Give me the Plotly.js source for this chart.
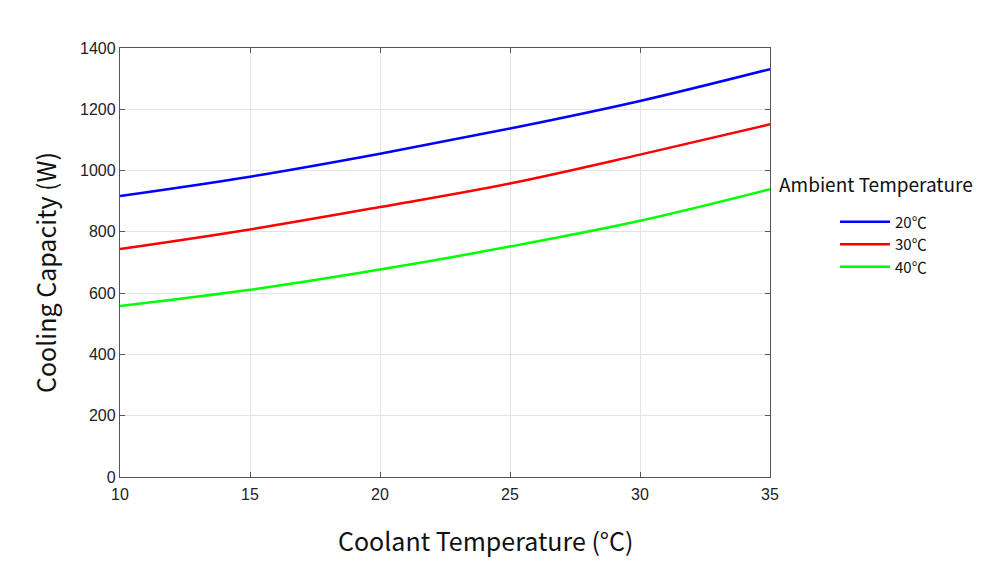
<!DOCTYPE html>
<html>
<head>
<meta charset="utf-8">
<script src="https://cdn.plot.ly/plotly-3.0.1.min.js"></script>
<style>html,body{margin:0;padding:0;background:#fff;}#chart{width:1000px;height:577px;}</style>
</head>
<body>
<div id="chart"></div>
<script>
const coolantTemp = [10, 15, 20, 25, 30, 35];
const cap20 = [917, 980, 1055, 1137, 1227, 1331];
const cap30 = [744, 808, 881, 958, 1052, 1151];
const cap40 = [558, 611, 677, 752, 836, 939];
const seriesNames = ['20℃', '30℃', '40℃'];
const seriesColors = ['#0000ff', '#ff0000', '#00ff00'];
const xTicks = [10, 15, 20, 25, 30, 35];
const yTicks = [0, 200, 400, 600, 800, 1000, 1200, 1400];

const series = [cap20, cap30, cap40];
const traces = series.map((ys, i) => ({
  x: coolantTemp, y: ys, type: 'scatter', mode: 'lines',
  name: seriesNames[i],
  line: {color: seriesColors[i], width: 2.5, shape: 'spline', smoothing: 1}
}));

const titleFont = {family: 'Noto Sans CJK SC, Noto Sans, sans-serif', size: 25, color: '#111'};
const axisCommon = {
  showline: true, linecolor: '#555555', linewidth: 1.2, mirror: 'ticks',
  ticks: 'inside', ticklen: 5, tickcolor: '#555555', tickwidth: 1,
  showgrid: true, gridcolor: '#e3e3e3', gridwidth: 1, zeroline: false,
  tickfont: {family: 'Liberation Sans, Arial, sans-serif', size: 16, color: '#222'}
};

const layout = {
  width: 1000, height: 577,
  margin: {l: 120, r: 230, t: 48, b: 100},
  paper_bgcolor: '#ffffff', plot_bgcolor: '#ffffff',
  xaxis: Object.assign({}, axisCommon, {
    range: [10, 35], tickvals: xTicks, ticktext: xTicks.map(String), ticklabelstandoff: 3
  }),
  yaxis: Object.assign({}, axisCommon, {
    range: [0, 1400], tickvals: yTicks, ticktext: yTicks.map(String)
  }),
  showlegend: true,
  legend: {
    x: 1.1, xanchor: 'left', y: 0.633, yanchor: 'top',
    bgcolor: 'rgba(0,0,0,0)', borderwidth: 0,
    font: {family: 'Noto Sans CJK SC, Noto Sans, sans-serif', size: 15, color: '#111'},
    itemwidth: 50, tracegroupgap: 0
  },
  annotations: [{
    text: 'Ambient Temperature', xref: 'paper', yref: 'paper',
    x: 1.01, xanchor: 'left', y: (477 - 183) / 429, yanchor: 'middle',
    showarrow: false,
    font: {family: 'Noto Sans CJK SC, Noto Sans, sans-serif', size: 19, color: '#111'}
  }, {
    text: 'Coolant Temperature (°C)', xref: 'paper', yref: 'paper',
    x: (486 - 120) / 650, xanchor: 'center', y: (477 - 540) / 429, yanchor: 'middle',
    showarrow: false, font: titleFont
  }, {
    text: 'Cooling Capacity (W)', xref: 'paper', yref: 'paper', textangle: -90,
    x: (45 - 120) / 650, xanchor: 'center', y: (477 - 273) / 429, yanchor: 'middle',
    showarrow: false, font: titleFont
  }]
};

Plotly.newPlot('chart', traces, layout, {displayModeBar: false, staticPlot: true});
</script>
</body>
</html>
